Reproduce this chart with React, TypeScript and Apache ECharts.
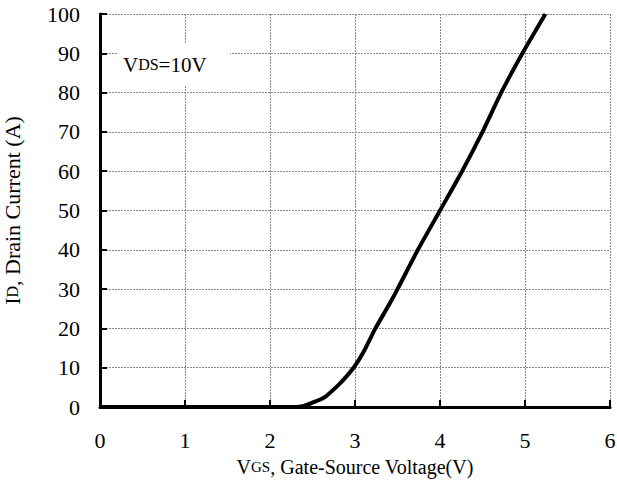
import React, { useEffect, useRef } from "react";
import * as echarts from "echarts";

// Transfer characteristic: drain current vs gate-source voltage at VDS = 10 V
const vgs = [0, 2.3, 2.4, 2.5, 2.65, 2.8, 2.9, 3.0, 3.1, 3.24, 3.4, 3.5, 3.74, 4.0, 4.26, 4.5, 4.72, 4.97, 5.24];
const idCurrent = [0, 0, 0.3, 1.1, 2.6, 5.5, 7.8, 10.5, 14, 20, 26, 30, 40, 50, 60, 70, 80, 90, 100];

const xTicks = [0, 1, 2, 3, 4, 5, 6];
const yTicks = [0, 10, 20, 30, 40, 50, 60, 70, 80, 90, 100];

const FONT = "'Liberation Serif', 'Times New Roman', serif";

export default function App() {
  const ref = useRef<HTMLDivElement>(null);

  useEffect(() => {
    document.body.style.margin = "0";
    if (!ref.current) return;
    const chart = echarts.init(ref.current, null, { renderer: "svg" });
    const points = vgs.map((v, i) => [v, idCurrent[i]]);

    const tickLabel = {
      color: "#000",
      formatter: "{t|{value}}",
      rich: { t: { fontFamily: FONT, fontSize: 22, color: "#000" } },
    };

    chart.setOption({
      animation: false,
      backgroundColor: "#ffffff",
      textStyle: { fontFamily: FONT },
      grid: { left: 100, right: 7, top: 14, bottom: 73, containLabel: false, outerBoundsMode: "none" },
      xAxis: {
        type: "value",
        min: xTicks[0],
        max: xTicks[xTicks.length - 1],
        interval: 1,
        axisLine: { show: true, onZero: false, lineStyle: { color: "#000", width: 3 } },
        axisTick: { show: true, inside: true, length: 7, lineStyle: { color: "#000", width: 2 } },
        axisLabel: { ...tickLabel, margin: 22 },
        splitLine: { show: true, lineStyle: { color: "#8a8a8a", type: [2, 1], width: 1 } },
        name: "{a|V}{b|GS}{a|, Gate-Source Voltage(V)}",
        nameLocation: "middle",
        nameGap: 50,
        nameTextStyle: {
          fontFamily: FONT,
          rich: {
            a: { fontFamily: FONT, fontSize: 20, color: "#000" },
            b: { fontFamily: FONT, fontSize: 15, color: "#000" },
          },
        },
      },
      yAxis: {
        type: "value",
        min: yTicks[0],
        max: yTicks[yTicks.length - 1],
        interval: 10,
        axisLine: { show: true, onZero: false, lineStyle: { color: "#000", width: 3 } },
        axisTick: { show: true, inside: true, length: 7, lineStyle: { color: "#000", width: 2 } },
        axisLabel: { ...tickLabel, margin: 20 },
        splitLine: { show: true, lineStyle: { color: "#8a8a8a", type: [2, 1], width: 1 } },
        name: "{a|I}{b|D}{a|, Drain Current (A)}",
        nameLocation: "middle",
        nameGap: 77,
        nameRotate: 90,
        nameTextStyle: {
          fontFamily: FONT,
          rich: {
            a: { fontFamily: FONT, fontSize: 22, color: "#000" },
            b: { fontFamily: FONT, fontSize: 16, color: "#000" },
          },
        },
      },
      graphic: [
        {
          type: "rect",
          left: 117,
          top: 44,
          shape: { width: 113, height: 41 },
          style: { fill: "#ffffff" },
          z: 10,
        },
        {
          type: "text",
          left: 123,
          top: 54,
          z: 11,
          style: {
            text: "{a|V}{b|DS}{a|=10V}",
            rich: {
              a: { fontFamily: FONT, fontSize: 21, fill: "#000" },
              b: { fontFamily: FONT, fontSize: 16, fill: "#000" },
            },
          },
        },
      ],
      series: [
        {
          type: "line",
          data: points,
          symbol: "none",
          smooth: 0.2,
          clip: true,
          lineStyle: { color: "#000", width: 4 },
          z: 5,
        },
      ],
    });

    return () => chart.dispose();
  }, []);

  return <div ref={ref} style={{ width: 617, height: 480 }} />;
}
